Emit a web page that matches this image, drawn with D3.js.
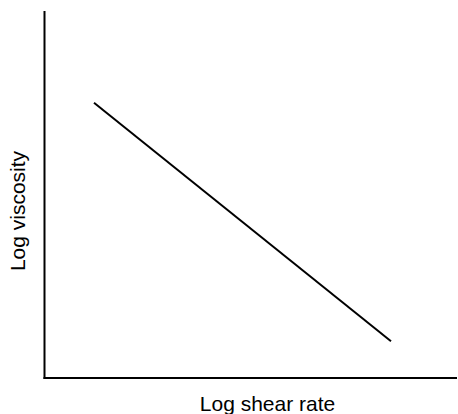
<!DOCTYPE html>
<html>
<head>
<meta charset="utf-8">
<script src="https://cdn.jsdelivr.net/npm/d3@7"></script>
<style>
  html, body { margin: 0; padding: 0; background: #fff; }
  svg { display: block; }
  text { font-family: "Liberation Sans", Arial, Helvetica, sans-serif; fill: #000; }
</style>
</head>
<body>
<svg id="chart" width="458" height="414"></svg>
<script>
// Schematic flow curve: log viscosity falls linearly with log shear rate
const logShearRate = [1.2, 8.4];
const logViscosity = [7.5, 1.0];
const xAxisTitle = "Log shear rate";
const yAxisTitle = "Log viscosity";

const svg = d3.select("#chart");

const x = d3.scaleLinear().domain([0, 10]).range([44.5, 457]);
const y = d3.scaleLinear().domain([0, 10]).range([378, 11]);

// Bare axes, no ticks
svg.append("line")
  .attr("x1", x(0)).attr("x2", x(0))
  .attr("y1", y(10)).attr("y2", y(0) + 1)
  .attr("stroke", "#000").attr("stroke-width", 2);
svg.append("line")
  .attr("x1", x(0) - 1).attr("x2", x(10))
  .attr("y1", y(0)).attr("y2", y(0))
  .attr("stroke", "#000").attr("stroke-width", 2);

const pts = logShearRate.map((v, i) => [v, logViscosity[i]]);
svg.append("path")
  .datum(pts)
  .attr("d", d3.line().x(d => x(d[0])).y(d => y(d[1])))
  .attr("fill", "none")
  .attr("stroke", "#000")
  .attr("stroke-width", 2);

svg.append("text")
  .attr("x", 267.5).attr("y", 411)
  .attr("text-anchor", "middle")
  .style("font-size", "21px")
  .text(xAxisTitle);

svg.append("text")
  .attr("transform", "translate(25,211) rotate(-90)")
  .attr("text-anchor", "middle")
  .style("font-size", "21px")
  .text(yAxisTitle);
</script>
</body>
</html>
